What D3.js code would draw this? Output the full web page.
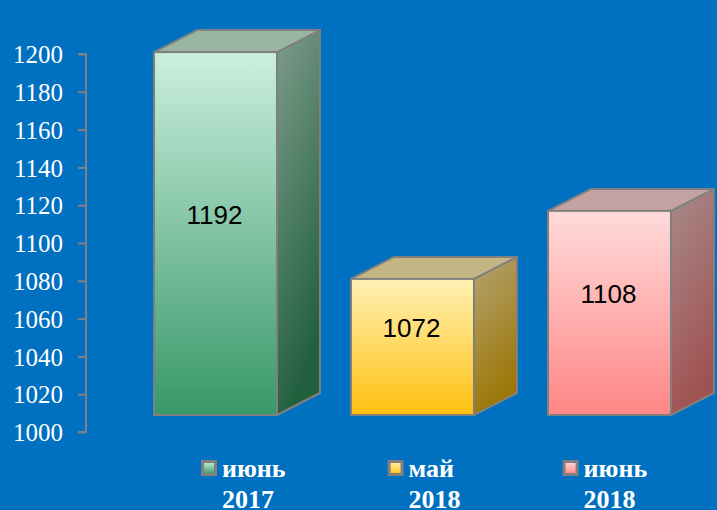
<!DOCTYPE html>
<html>
<head>
<meta charset="utf-8">
<script src="https://cdn.jsdelivr.net/npm/d3@7"></script>
<style>
  html, body { margin: 0; padding: 0; background: #0070c0; }
  svg { display: block; }
</style>
</head>
<body>
<div id="chart"></div>
<script>
/* 3D column chart: three periods, value axis 1000..1200 */

const CATEGORIES = ["июнь 2017", "май 2018", "июнь 2018"];
const VALUES     = [1192, 1072, 1108];
const TICKS      = [1000, 1020, 1040, 1060, 1080, 1100, 1120, 1140, 1160, 1180, 1200];

// per-bar colours: front top / front bottom / side top / side bottom / top face
const PALETTE = [
  { ft: "#cbefdf", fb: "#389868", st: "#7e9c8c", sb: "#22603e", tp: "#98b6a2" },
  { ft: "#fff1b4", fb: "#ffc010", st: "#b4a474", sb: "#9c7606", tp: "#c4b684" },
  { ft: "#ffdada", fb: "#ff8686", st: "#a88a8a", sb: "#a05252", tp: "#c4a2a2" }
];

const W = 717, H = 510;
const DEPTH_X = 43, DEPTH_Y = 22;   // 3d offset of the back plane
const EDGE = "#808080";
const SERIF = '"Liberation Serif", "Times New Roman", serif';

const svg = d3.select("#chart").append("svg").attr("width", W).attr("height", H);
const defs = svg.append("defs");

// SCALES
const yAxis  = d3.scaleLinear().domain([1000, 1200]).range([432, 54]);   // wall axis
const yFront = d3.scaleLinear().domain([1000, 1200]).range([415, 37]);   // front face of bars
const x = d3.scaleBand().domain(CATEGORIES).range([117, 708]).paddingInner(0.376).paddingOuter(0.188);

// AXIS
const axis = svg.append("g").attr("transform", "translate(86,0)")
    .call(d3.axisLeft(yAxis).tickValues(TICKS).tickSize(8).tickFormat(d3.format("d")));
axis.attr("font-family", null).attr("font-size", null);
axis.select(".domain").attr("stroke", EDGE).attr("stroke-width", 2).attr("d", `M-8,${yAxis(1000)}H0V${yAxis(1200)}H-8`);
axis.selectAll(".tick line").attr("stroke", EDGE).attr("stroke-width", 2);
axis.selectAll(".tick text")
    .style("font-family", SERIF).style("font-size", "25px").attr("fill", "#fff")
    .attr("x", -23).attr("dy", "0.35em");

// gradients
PALETTE.forEach((p, i) => {
  const gf = defs.append("linearGradient").attr("id", `front${i}`).attr("x1", 0).attr("y1", 0).attr("x2", 0).attr("y2", 1);
  gf.append("stop").attr("offset", 0).attr("stop-color", p.ft);
  gf.append("stop").attr("offset", 1).attr("stop-color", p.fb);
  const gs = defs.append("linearGradient").attr("id", `side${i}`).attr("x1", 0).attr("y1", 0).attr("x2", 0.3).attr("y2", 1);
  gs.append("stop").attr("offset", 0).attr("stop-color", p.st);
  gs.append("stop").attr("offset", 1).attr("stop-color", p.sb);
});

// BARS
const bars = svg.selectAll("g.bar").data(VALUES).join("g").attr("class", "bar");
bars.each(function(v, i){
  const g = d3.select(this);
  const x0 = x(CATEGORIES[i]), x1 = x0 + x.bandwidth();
  const yt = yFront(v), yb = yFront(1000);
  g.append("path")   // side
      .attr("d", `M${x1},${yt}L${x1 + DEPTH_X},${yt - DEPTH_Y}L${x1 + DEPTH_X},${yb - DEPTH_Y}L${x1},${yb}Z`)
      .attr("fill", `url(#side${i})`).attr("stroke", EDGE).attr("stroke-width", 2).attr("stroke-linejoin", "round");
  g.append("path")   // top
      .attr("d", `M${x0},${yt}L${x0 + DEPTH_X},${yt - DEPTH_Y}L${x1 + DEPTH_X},${yt - DEPTH_Y}L${x1},${yt}Z`)
      .attr("fill", PALETTE[i].tp).attr("stroke", EDGE).attr("stroke-width", 2).attr("stroke-linejoin", "round");
  g.append("rect")   // front
      .attr("x", x0).attr("y", yt).attr("width", x1 - x0).attr("height", yb - yt)
      .attr("fill", `url(#front${i})`).attr("stroke", EDGE).attr("stroke-width", 2);
  g.append("text")
      .style("font-family", '"Liberation Sans", Arial, sans-serif').style("font-size", "26px")
      .attr("fill", "#000")
      .attr("x", (x0 + x1) / 2 - 1).attr("y", (yt + yb) / 2 - 10)
      .attr("text-anchor", "middle").text(v);
});

// LEGEND (bottom, labels wrapped over two lines)
const legend = svg.append("g").attr("transform", "translate(201,460)");
let lx = 0;
CATEGORIES.forEach((c, i) => {
  const [w1, w2] = c.split(" ");
  const item = legend.append("g").attr("transform", `translate(${lx},0)`);
  const lg = defs.append("linearGradient").attr("id", `leg${i}`).attr("x1", 0).attr("y1", 0).attr("x2", 0).attr("y2", 1);
  lg.append("stop").attr("offset", 0).attr("stop-color", PALETTE[i].ft);
  lg.append("stop").attr("offset", 1).attr("stop-color", PALETTE[i].fb);
  item.append("rect").attr("x", 1.5).attr("y", 1.5).attr("width", 13).attr("height", 13)
      .attr("fill", `url(#leg${i})`).attr("stroke", EDGE).attr("stroke-width", 3);
  const lines = [w1, w2].map((w, k) => item.append("text")
      .style("font-family", SERIF).style("font-size", "26px").style("font-weight", "bold")
      .attr("fill", "#fff").attr("x", 21).attr("y", 17 + k * 31).text(w));
  const wmax = d3.max(lines, t => t.node().getComputedTextLength());
  lx += 21 + wmax + 102;
});
</script>
</body>
</html>
